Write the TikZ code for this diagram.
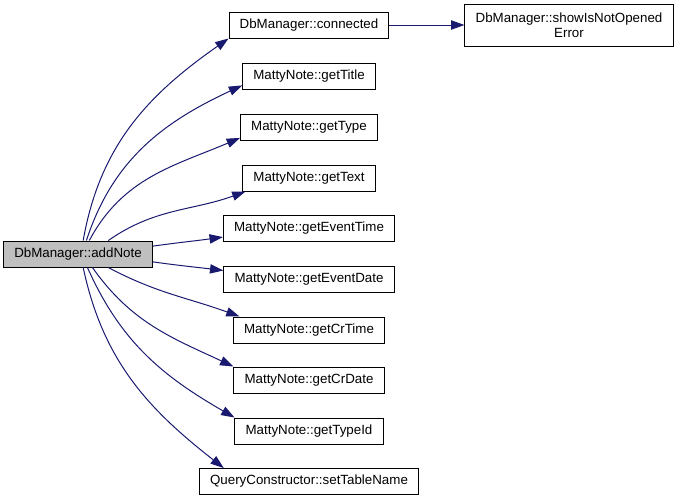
\documentclass[tikz,border=0pt]{standalone}
\usepackage{fontspec}
\setmainfont{Liberation Sans}
\usetikzlibrary{arrows.meta}

\definecolor{edgeblue}{HTML}{191970}
\definecolor{rootgrey}{HTML}{BFBFBF}

\begin{document}
\begin{tikzpicture}[x=0.75pt, y=0.75pt,
      fn/.style={draw=black, line width=0.75pt, inner xsep=8pt, inner ysep=2pt,
        minimum height=19.5pt, align=center, font=\fontsize{10}{11.5}\selectfont},
      call/.style={draw=edgeblue, line width=0.75pt, -{Triangle[length=10pt, width=7pt]}}]

      % Definitions
      \def\xc{309}   % Column of the called functions
      \def\xe{569}   % Column of the second level call

      \useasboundingbox (0,0) rectangle (677,-501);

      % Nodes
      \node [fn, fill=rootgrey] (addNote) at (78,-254) {DbManager::addNote};
      \node [fn] (connected) at (\xc,-25) {DbManager::connected};
      \node [fn, minimum height=31.5pt] (showError) at (\xe,-25) {DbManager::showIsNotOpened\\Error};
      \node [fn] (getTitle) at (\xc,-76) {MattyNote::getTitle};
      \node [fn] (getType) at (\xc,-127) {MattyNote::getType};
      \node [fn] (getText) at (\xc,-178) {MattyNote::getText};
      \node [fn] (getEventTime) at (\xc,-228) {MattyNote::getEventTime};
      \node [fn] (getEventDate) at (\xc,-279.5) {MattyNote::getEventDate};
      \node [fn] (getCrTime) at (\xc,-330) {MattyNote::getCrTime};
      \node [fn] (getCrDate) at (\xc,-380) {MattyNote::getCrDate};
      \node [fn] (getTypeId) at (\xc,-431) {MattyNote::getTypeId};
      \node [fn] (setTableName) at (\xc,-481.5) {QueryConstructor::setTableName};

      % Draw commands
      \draw [call] (connected) -- (showError);

      \draw [call] (addNote.69) to [out=80, in=215] (connected.south west);
      \draw [call] (addNote.58) to [out=72, in=205] (getTitle.188);
      \draw [call] (addNote.50) to [out=62, in=203] (getType.189);
      \draw [call] (addNote.24) to [out=35, in=200] (getText.192);
      \draw [call] (addNote.6) to [out=8, in=188] (getEventTime.186);
      \draw [call] (addNote.-6) to [out=-8, in=173] (getEventDate.174);
      \draw [call] (addNote.-24) to [out=-28, in=160] (getCrTime.169);
      \draw [call] (addNote.-43) to [out=-55, in=155] (getCrDate.north west);
      \draw [call] (addNote.-55) to [out=-66, in=150] (getTypeId.north west);
      \draw [call] (addNote.-69) to [out=-78, in=142] (setTableName.171);

\end{tikzpicture}
\end{document}
